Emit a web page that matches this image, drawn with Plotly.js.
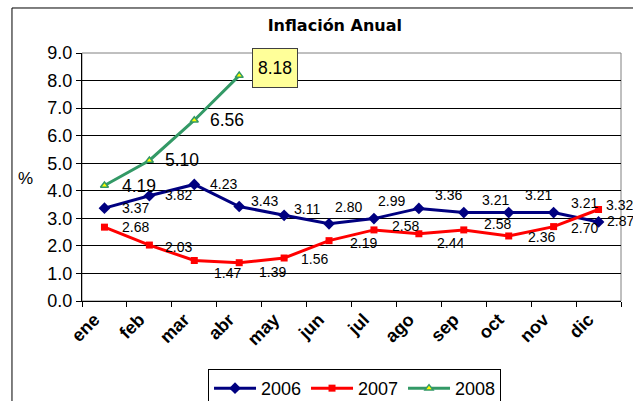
<!DOCTYPE html>
<html>
<head>
<meta charset="utf-8">
<script src="https://cdn.plot.ly/plotly-3.0.1.min.js"></script>
<style>html,body{margin:0;padding:0;background:#fff;}</style>
</head>
<body>
<div id="chart" style="width:633px;height:401px;"></div>
<script>
// ---- data ----
var months = ['ene','feb','mar','abr','may','jun','jul','ago','sep','oct','nov','dic'];
var v2006 = [3.37, 3.82, 4.23, 3.43, 3.11, 2.80, 2.99, 3.36, 3.21, 3.21, 3.21, 2.87];
var v2007 = [2.68, 2.03, 1.47, 1.39, 1.56, 2.19, 2.58, 2.44, 2.58, 2.36, 2.70, 3.32];
var v2008 = [4.19, 5.10, 6.56, 8.18];
var seriesNames = ['2006', '2007', '2008'];
var yTickVals = [0,1,2,3,4,5,6,7,8,9];

// label offsets (px) from each point: right shift, downward shift
var dx2006 = [16, 14, 14, 10, 8, 4, 2, 14, 16, 14, 15, 6];
var dy2006 = [0, -1, 0, -5, -6, -17, -18, -13, -13, -18, -10, -1];
var dx2007 = [16, 14, 18, 18, 15, 19, 16, 16, 18, 17, 15, 5];
var dy2007 = [0, 2, 13, 9, 1, 2, -4, 9, -6, 1, 1, -5];
var dx2008 = [16, 14, 14, 13];
var dy2008 = [0, 0, 0, -8];

var FONT = 'Liberation Sans, Arial, sans-serif';

var traces = [
  {x: months, y: v2006, name: seriesNames[0], type: 'scatter', mode: 'lines+markers',
   line: {color: '#000080', width: 3},
   marker: {symbol: 'diamond', size: 9, color: '#000080'}},
  {x: months, y: v2007, name: seriesNames[1], type: 'scatter', mode: 'lines+markers',
   line: {color: '#FF0000', width: 3},
   marker: {symbol: 'square', size: 7, color: '#FF0000'}},
  {x: months.slice(0, v2008.length), y: v2008, name: seriesNames[2], type: 'scatter', mode: 'lines+markers',
   line: {color: '#339966', width: 3},
   marker: {symbol: 'triangle-up', size: 7, color: '#FFFF00', line: {color: '#339966', width: 1.5}}}
];

var annotations = [];
function addLabels(vals, dx, dy, size, last) {
  vals.forEach(function(v, i) {
    var a = {x: months[i], y: v, xref: 'x', yref: 'y', text: v.toFixed(2), showarrow: false,
      xanchor: 'left', yanchor: 'middle', xshift: dx[i], yshift: -dy[i],
      font: {family: FONT, size: size, color: '#000'}};
    if (last && i === vals.length - 1) {
      a.bgcolor = '#FFFF99'; a.bordercolor = '#404040'; a.borderwidth = 1; a.borderpad = 0;
      a.width = 44; a.height = 38;
    }
    annotations.push(a);
  });
}
addLabels(v2006, dx2006, dy2006, 14, false);
addLabels(v2007, dx2007, dy2007, 14, false);
addLabels(v2008, dx2008, dy2008, 17.5, true);

annotations.push({xref: 'paper', yref: 'paper', x: -0.104, y: 0.492, text: '%', showarrow: false,
  xanchor: 'center', yanchor: 'middle', font: {family: FONT, size: 17, color: '#000'}});

var layout = {
  width: 633, height: 401,
  margin: {l: 82, r: 12, t: 53, b: 100, autoexpand: false},
  paper_bgcolor: '#ffffff', plot_bgcolor: '#ffffff',
  showlegend: true,
  title: {text: 'Inflación Anual', font: {family: 'DejaVu Sans, sans-serif', size: 16, weight: 'bold', color: '#000'},
    xref: 'container', yref: 'container', x: 0.529, y: 0.9377, xanchor: 'center', yanchor: 'middle'},
  xaxis: {type: 'category', range: [-0.5, 11.5], autorange: false, tickson: 'boundaries', ticks: 'outside', ticklen: 5, tickcolor: '#000',
    showline: true, linecolor: '#000', linewidth: 1, showgrid: false, tickangle: -45, ticklabelshift: -10,
    tickfont: {family: FONT, size: 18, weight: 'bold', color: '#000'}, zeroline: false, fixedrange: true},
  yaxis: {range: [0, 9], autorange: false, tickvals: yTickVals, tickformat: '.1f', ticks: 'outside', ticklen: 5, tickcolor: '#000',
    showline: true, linecolor: '#000', linewidth: 1, showgrid: true, gridcolor: '#000', gridwidth: 1,
    zeroline: false, tickfont: {family: FONT, size: 18, color: '#000'}, fixedrange: true},
  legend: {orientation: 'h', x: 0.2338, xanchor: 'left', y: -0.274, yanchor: 'top',
    bordercolor: '#000', borderwidth: 1, bgcolor: '#fff', entrywidth: 40, itemwidth: 42,
    font: {family: FONT, size: 18, color: '#000'}},
  shapes: [
    {type: 'rect', xref: 'paper', yref: 'paper', x0: 0, x1: 1, y0: 0, y1: 1,
     line: {color: '#808080', width: 1}, layer: 'below'},
    {type: 'rect', xref: 'paper', yref: 'paper', x0: -0.1299, x1: 1.05, y0: -0.5, y1: 1.1815,
     line: {color: '#000', width: 1}, layer: 'below'}
  ],
  annotations: annotations
};

Plotly.newPlot('chart', traces, layout, {displayModeBar: false, staticPlot: true});
</script>
</body>
</html>
